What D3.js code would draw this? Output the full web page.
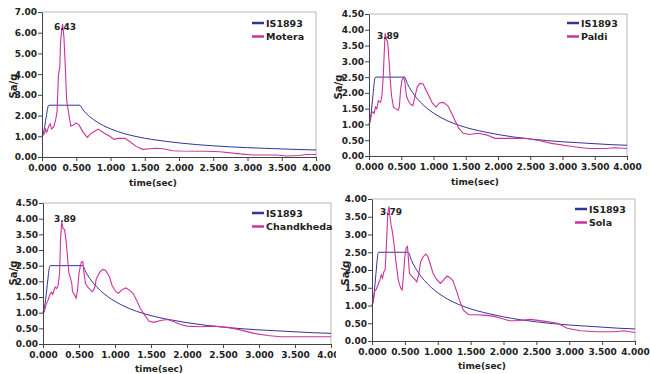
<!DOCTYPE html>
<html>
<head>
<meta charset="utf-8">
<script src="https://cdn.jsdelivr.net/npm/d3@7"></script>
<style>
  body { margin: 0; background: #fff; }
  svg { display: block; }
  text { font-family: "DejaVu Sans", Verdana, sans-serif; font-weight: bold; fill: #222; }
  .axis path, .axis line { stroke: #444; }
</style>
</head>
<body>
<div id="chart"></div>
<script>
// response spectra (time in sec, Sa/g)
const is1893 = [[0,1.0],[0.03,1.3],[0.06,1.9],[0.09,2.45],[0.1,2.5],[0.55,2.5],[0.6,2.27],[0.7,1.94],[0.8,1.7],[0.9,1.51],[1.0,1.36],[1.2,1.13],[1.4,0.97],[1.6,0.85],[1.8,0.76],[2.0,0.68],[2.25,0.6],[2.5,0.54],[2.75,0.49],[3.0,0.45],[3.25,0.42],[3.5,0.39],[3.75,0.36],[4.0,0.34]];

const motera = [[0,1.0],[0.04,1.15],[0.05,1.35],[0.07,1.2],[0.1,1.5],[0.12,1.6],[0.14,1.35],[0.17,1.45],[0.2,1.8],[0.22,2.2],[0.24,3.95],[0.26,4.35],[0.27,5.5],[0.29,6.2],[0.3,6.43],[0.32,5.8],[0.34,4.35],[0.36,2.75],[0.39,2.1],[0.42,1.5],[0.46,1.55],[0.5,1.65],[0.54,1.55],[0.6,1.2],[0.66,0.95],[0.72,1.15],[0.82,1.35],[0.91,1.15],[0.99,1.0],[1.05,0.85],[1.11,0.9],[1.21,0.9],[1.28,0.75],[1.38,0.5],[1.47,0.37],[1.57,0.4],[1.67,0.42],[1.77,0.4],[1.91,0.3],[2.01,0.29],[2.4,0.28],[2.6,0.25],[2.89,0.15],[3.08,0.1],[3.42,0.1],[3.57,0.05],[3.76,0.07],[3.86,0.12],[4.0,0.12]];

const paldi = [[0,0.98],[0.02,1.1],[0.04,1.35],[0.06,1.4],[0.08,1.35],[0.1,1.55],[0.12,1.5],[0.145,1.75],[0.18,1.7],[0.2,1.9],[0.22,2.5],[0.24,3.45],[0.25,3.89],[0.27,3.7],[0.29,3.6],[0.31,3.05],[0.33,2.4],[0.35,1.9],[0.38,1.55],[0.41,1.5],[0.45,1.45],[0.47,1.55],[0.49,2.1],[0.51,2.4],[0.54,2.5],[0.56,2.3],[0.58,1.9],[0.61,1.75],[0.64,1.65],[0.68,1.6],[0.72,1.95],[0.75,2.2],[0.79,2.3],[0.84,2.28],[0.88,2.1],[0.93,1.9],[0.98,1.68],[1.04,1.55],[1.09,1.68],[1.15,1.7],[1.22,1.6],[1.27,1.4],[1.33,1.14],[1.39,0.88],[1.46,0.72],[1.56,0.68],[1.69,0.72],[1.82,0.67],[1.95,0.56],[2.1,0.56],[2.42,0.56],[2.63,0.49],[2.83,0.4],[3.15,0.3],[3.4,0.24],[3.66,0.24],[3.82,0.26],[4.0,0.24]];

const chandkheda = [[0,1.0],[0.02,1.03],[0.04,1.24],[0.07,1.4],[0.1,1.6],[0.12,1.65],[0.135,1.58],[0.15,1.7],[0.17,1.82],[0.19,1.77],[0.21,1.87],[0.23,2.25],[0.245,3.41],[0.26,3.89],[0.28,3.68],[0.3,3.65],[0.32,3.3],[0.34,2.78],[0.36,2.25],[0.38,2.12],[0.4,1.93],[0.41,1.67],[0.44,1.56],[0.46,1.46],[0.48,1.72],[0.5,2.25],[0.52,2.5],[0.535,2.62],[0.555,2.62],[0.57,2.25],[0.59,1.93],[0.62,1.82],[0.66,1.72],[0.69,1.67],[0.72,1.82],[0.74,2.08],[0.79,2.3],[0.83,2.38],[0.87,2.35],[0.92,2.16],[0.96,1.87],[1.01,1.67],[1.05,1.62],[1.09,1.72],[1.15,1.79],[1.2,1.72],[1.25,1.62],[1.3,1.4],[1.35,1.14],[1.41,0.93],[1.47,0.73],[1.54,0.69],[1.63,0.75],[1.73,0.78],[1.82,0.71],[1.91,0.62],[2.0,0.57],[2.19,0.55],[2.37,0.57],[2.56,0.53],[2.74,0.45],[2.93,0.34],[3.12,0.27],[3.3,0.23],[3.58,0.23],[3.86,0.23],[4.0,0.23]];

const sola = [[0,1.0],[0.02,1.1],[0.04,1.4],[0.06,1.44],[0.08,1.53],[0.1,1.62],[0.12,1.72],[0.14,1.86],[0.16,1.77],[0.18,1.95],[0.2,2.0],[0.22,2.75],[0.24,3.6],[0.26,3.79],[0.27,3.55],[0.29,3.27],[0.31,3.08],[0.34,2.66],[0.36,2.28],[0.38,2.0],[0.4,1.72],[0.42,1.58],[0.44,1.48],[0.46,1.44],[0.48,1.9],[0.5,2.38],[0.52,2.62],[0.54,2.66],[0.57,1.9],[0.59,1.86],[0.62,1.79],[0.65,1.74],[0.68,1.67],[0.71,1.86],[0.74,2.23],[0.78,2.38],[0.82,2.45],[0.85,2.38],[0.89,2.14],[0.93,1.9],[0.98,1.74],[1.04,1.62],[1.09,1.72],[1.14,1.83],[1.18,1.79],[1.23,1.7],[1.28,1.44],[1.33,1.15],[1.39,0.87],[1.47,0.74],[1.58,0.74],[1.71,0.73],[1.84,0.7],[1.96,0.64],[2.09,0.57],[2.2,0.57],[2.41,0.61],[2.61,0.56],[2.82,0.5],[2.97,0.36],[3.17,0.29],[3.43,0.26],[3.68,0.26],[3.83,0.29],[4.0,0.24]];

const xTicks = [0, 0.5, 1, 1.5, 2, 2.5, 3, 3.5, 4];
const peakLabels = ["6.43", "3.89", "3.89", "3.79"];

const panels = [
  { name: "Motera",     data: motera,     yMax: 7,   yStep: 1,   peak: peakLabels[0],
    x0: 42,  x1: 316, yT: 12,  yB: 157, peakX: 65,  peakY: 30,  legX: 252, legY: 23,  ylabX: 13,  ylabY: 86,  tX: 153, tY: 186 },
  { name: "Paldi",      data: paldi,      yMax: 4.5, yStep: 0.5, peak: peakLabels[1],
    x0: 369, x1: 627, yT: 14,  yB: 156, peakX: 388, peakY: 39,  legX: 567, legY: 23,  ylabX: 338, ylabY: 87,  tX: 475, tY: 185 },
  { name: "Chandkheda", data: chandkheda, yMax: 4.5, yStep: 0.5, peak: peakLabels[2],
    x0: 43,  x1: 331, yT: 203, yB: 344, peakX: 65,  peakY: 222, legX: 252, legY: 213, ylabX: 13,  ylabY: 273, tX: 159, tY: 372 },
  { name: "Sola",       data: sola,       yMax: 4,   yStep: 0.5, peak: peakLabels[3],
    x0: 372, x1: 635, yT: 199, yB: 341, peakX: 391, peakY: 215, legX: 575, legY: 209, ylabX: 345, ylabY: 273, tX: 482, tY: 369 }
];

const blue = "#333399", pink = "#cc3399";

const svg = d3.select("#chart").append("svg")
  .attr("width", 650).attr("height", 374);

panels.forEach((p, i) => {
  const g = svg.append("g");
  if (i === 3) {
    // right-hand chart sits on top of the left one
    g.append("rect").attr("x", 336).attr("y", 190).attr("width", 314).attr("height", 184).attr("fill", "#fff");
  }
  const x = d3.scaleLinear().domain([0, 4]).range([p.x0, p.x1]);
  const y = d3.scaleLinear().domain([0, p.yMax]).range([p.yB, p.yT]);

  // plot frame (top + right light grey)
  g.append("path")
    .attr("d", `M${p.x0},${p.yT}H${p.x1}V${p.yB}`)
    .attr("fill", "none").attr("stroke", "#b8b8b8").attr("stroke-width", 1);

  const line = d3.line().x(d => x(d[0])).y(d => y(d[1]));

  g.append("path").datum(is1893)
    .attr("d", line.curve(d3.curveMonotoneX))
    .attr("fill", "none").attr("stroke", blue).attr("stroke-width", 1);
  g.append("path").datum(p.data)
    .attr("d", line.curve(d3.curveLinear))
    .attr("fill", "none").attr("stroke", pink).attr("stroke-width", 1.1);

  g.append("g").attr("class", "axis")
    .attr("transform", `translate(${p.x0},0)`)
    .call(d3.axisLeft(y).tickValues(d3.range(0, p.yMax + 0.001, p.yStep))
      .tickSize(4).tickSizeOuter(0).tickPadding(1).tickFormat(d3.format(".2f")))
    .call(a => a.selectAll("text").attr("font-size", 9).attr("fill", "#222"));

  g.append("g").attr("class", "axis")
    .attr("transform", `translate(0,${p.yB})`)
    .call(d3.axisBottom(x).tickValues(xTicks)
      .tickSize(4).tickSizeOuter(0).tickPadding(4).tickFormat(d3.format(".3f")))
    .call(a => a.selectAll("text").attr("font-size", 9).attr("fill", "#222"));

  g.append("text").attr("x", p.peakX).attr("y", p.peakY)
    .attr("text-anchor", "middle").attr("font-size", 9).text(p.peak);

  g.append("text").attr("transform", `translate(${p.ylabX + 4},${p.ylabY}) rotate(-90)`)
    .attr("text-anchor", "middle").attr("font-size", 10).text("Sa/g");
  g.append("text").attr("x", p.tX).attr("y", p.tY)
    .attr("text-anchor", "middle").attr("font-size", 9).text("time(sec)");

  // legend
  [["IS1893", blue], [p.name, pink]].forEach(([k, c], j) => {
    const yy = p.legY + j * 13.5;
    g.append("line").attr("x1", p.legX).attr("x2", p.legX + 12)
      .attr("y1", yy).attr("y2", yy).attr("stroke", c).attr("stroke-width", 2.5);
    g.append("text").attr("x", p.legX + 14).attr("y", yy + 3.5)
      .attr("font-size", 9.5).text(k);
  });
});
</script>
</body>
</html>
